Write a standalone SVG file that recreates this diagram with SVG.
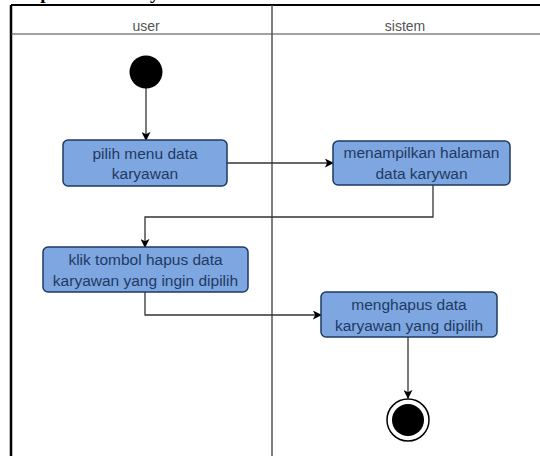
<svg xmlns="http://www.w3.org/2000/svg" width="540" height="456" viewBox="0 0 540 456">
  <style>
    .title { font-family: "Liberation Serif", "Times New Roman", serif; font-weight: bold; font-size: 19px; fill: #000; }
    .lane-label { font-family: "Liberation Sans", Arial, sans-serif; font-size: 14px; fill: #555; text-anchor: middle; }
    .action rect { fill: #7EA6E0; stroke: #1E3A63; stroke-width: 1.5; }
    .action text { font-family: "Liberation Sans", Arial, sans-serif; font-size: 15.5px; fill: #1E3A63; text-anchor: middle; }
    .edge { fill: none; stroke: #333; stroke-width: 1.3; marker-end: url(#arrow); }
  </style>
  <defs>
    <marker id="arrow" viewBox="0 0 10 10" refX="9" refY="5" markerWidth="9" markerHeight="9" markerUnits="userSpaceOnUse" orient="auto">
      <path d="M0,0 L10,5 L0,10 L2.5,5 Z" fill="#000"/>
    </marker>
  </defs>

  <rect width="540" height="456" fill="#fff"/>

  <!-- heading, almost entirely above the visible area -->
  <text class="title" x="16" y="-1.5">Hapus Data Karyawan</text>

  <!-- swimlane frame -->
  <g id="lanes">
    <line x1="11" y1="5" x2="540" y2="5" stroke="#000" stroke-width="2"/>
    <line x1="11" y1="5" x2="11" y2="456" stroke="#000" stroke-width="2.5"/>
    <line x1="11" y1="34" x2="540" y2="34" stroke="#444" stroke-width="1"/>
    <line x1="272" y1="5" x2="272" y2="456" stroke="#555" stroke-width="1.5"/>
    <text class="lane-label" x="146" y="31">user</text>
    <text class="lane-label" x="405" y="31">sistem</text>
  </g>

  <!-- connectors -->
  <g id="connectors">
    <path class="edge" d="M146,88 L146,140"/>
    <path class="edge" d="M227,163 L333,163"/>
    <path class="edge" d="M433,185 L433,217 L145,217 L145,247"/>
    <path class="edge" d="M145,292 L145,315 L321,315"/>
    <path class="edge" d="M408,337 L408,398"/>
  </g>

  <g id="start">
    <circle cx="146" cy="72" r="16.5" fill="#000"/>
  </g>

  <g id="pilih-menu" class="action">
    <rect x="63" y="140" width="164" height="46" rx="5"/>
    <text x="145" y="159">pilih menu data</text>
    <text x="145" y="179">karyawan</text>
  </g>

  <g id="tampil-halaman" class="action">
    <rect x="333" y="141" width="177" height="44" rx="5"/>
    <text x="421.5" y="158">menampilkan halaman</text>
    <text x="421.5" y="179">data karywan</text>
  </g>

  <g id="klik-hapus" class="action">
    <rect x="43" y="247" width="205" height="45" rx="5"/>
    <text x="145.5" y="265">klik tombol hapus data</text>
    <text x="145.5" y="286">karyawan yang ingin dipilih</text>
  </g>

  <g id="menghapus" class="action">
    <rect x="321" y="292" width="176" height="45" rx="5"/>
    <text x="409" y="310">menghapus data</text>
    <text x="409" y="331">karyawan yang dipilih</text>
  </g>

  <g id="end">
    <circle cx="408" cy="420" r="21" fill="#fff" stroke="#000" stroke-width="1.5"/>
    <circle cx="408" cy="420" r="16" fill="#000"/>
  </g>
</svg>
